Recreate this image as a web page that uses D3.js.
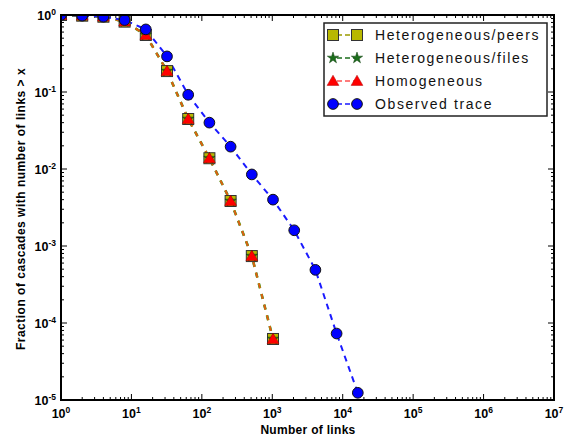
<!DOCTYPE html>
<html><head><meta charset="utf-8">
<script src="https://cdn.jsdelivr.net/npm/d3@7"></script>
<style>body{margin:0;background:#fff}svg{display:block}</style>
</head><body><svg id="c" width="571" height="436"></svg>
<script>
const linksX = [1,2,4,8,16,32,64,128,256,512,1024,2048,4096,8192,16384];
const observed = [1,0.98,0.95,0.86,0.65,0.29,0.092,0.040,0.0195,0.0085,0.0040,0.0016,0.00049,7.3e-5,1.24e-5];
const modelX = [1,2,4,8,16,32,64,128,256,512,1024];
const hetPeers = [1,0.98,0.95,0.82,0.55,0.187,0.0446,0.0138,0.00384,0.00074,6.2e-5];
const hetFiles = [1,0.98,0.95,0.82,0.55,0.187,0.0446,0.0138,0.00384,0.00074,6.2e-5];
const homog = [1,0.98,0.95,0.82,0.55,0.187,0.0446,0.0138,0.00384,0.00074,6.2e-5];
const xTickExp = [0,1,2,3,4,5,6,7];
const yTickExp = [0,-1,-2,-3,-4,-5];
const legendLabels = ["Heterogeneous/peers","Heterogeneous/files","Homogeneous","Observed trace"];

const W=571,H=436, m={l:61,t:15,r:17,b:36};
const pw=W-m.l-m.r, ph=H-m.t-m.b;
const svg=d3.select("#c");
const x=d3.scaleLog().domain([1,1e7]).range([m.l,m.l+pw]);
const y=d3.scaleLog().domain([1e-5,1]).range([m.t+ph,m.t]);

svg.append("defs").append("clipPath").attr("id","clip").append("rect")
  .attr("x",m.l).attr("y",m.t).attr("width",pw).attr("height",ph);

// ticks (inward, all four sides)
const g=svg.append("g").attr("stroke","#000").attr("stroke-width",1);
const xMinor=[],yMinor=[];
for(let e=0;e<7;e++)for(let k=2;k<10;k++)xMinor.push(k*Math.pow(10,e));
for(let e=-5;e<0;e++)for(let k=2;k<10;k++)yMinor.push(k*Math.pow(10,e));
xMinor.forEach(v=>{const px=x(v);
  g.append("line").attr("x1",px).attr("x2",px).attr("y1",m.t+ph).attr("y2",m.t+ph-3);
  g.append("line").attr("x1",px).attr("x2",px).attr("y1",m.t).attr("y2",m.t+3);});
xTickExp.forEach(e=>{const px=x(Math.pow(10,e));
  g.append("line").attr("x1",px).attr("x2",px).attr("y1",m.t+ph).attr("y2",m.t+ph-6);
  g.append("line").attr("x1",px).attr("x2",px).attr("y1",m.t).attr("y2",m.t+6);});
yMinor.forEach(v=>{const py=y(v);
  g.append("line").attr("x1",m.l).attr("x2",m.l+3).attr("y1",py).attr("y2",py);
  g.append("line").attr("x1",m.l+pw).attr("x2",m.l+pw-3).attr("y1",py).attr("y2",py);});
yTickExp.forEach(e=>{const py=y(Math.pow(10,e));
  g.append("line").attr("x1",m.l).attr("x2",m.l+6).attr("y1",py).attr("y2",py);
  g.append("line").attr("x1",m.l+pw).attr("x2",m.l+pw-6).attr("y1",py).attr("y2",py);});

// tick labels
const font="Liberation Sans, Arial, Helvetica, sans-serif";
xTickExp.forEach(e=>{
  const t=svg.append("text").attr("x",x(Math.pow(10,e))).attr("y",418)
    .attr("text-anchor","middle").attr("font-family",font).attr("font-weight","bold").attr("font-size",12.5);
  t.append("tspan").text("10");
  t.append("tspan").attr("font-size",8.5).attr("dy",-5).text(e);
});
yTickExp.forEach(e=>{
  const t=svg.append("text").attr("x",56).attr("y",y(Math.pow(10,e))+4.5)
    .attr("text-anchor","end").attr("font-family",font).attr("font-weight","bold").attr("font-size",12.5);
  t.append("tspan").text("10");
  t.append("tspan").attr("font-size",8.5).attr("dy",-5).text(e);
});

// axis titles
svg.append("text").attr("x",308).attr("y",434).attr("text-anchor","middle")
  .attr("font-family",font).attr("font-weight","bold").attr("font-size",12).attr("letter-spacing",0.3)
  .text("Number of links");
svg.append("text").attr("transform","translate(25,209) rotate(-90)").attr("text-anchor","middle")
  .attr("font-family",font).attr("font-weight","bold").attr("font-size",12).attr("letter-spacing",0.5)
  .text("Fraction of cascades with number of links > x");

// series
const plot=svg.append("g").attr("clip-path","url(#clip)");
const line=(xs)=>d3.line().x((d,i)=>x(xs[i])).y(d=>y(d));
const star=d3.symbol().type(d3.symbolStar).size(40);
const tri=d3.symbol().type(d3.symbolTriangle).size(60);
const circ=d3.symbol().type(d3.symbolCircle).size(90);

plot.append("path").datum(hetFiles).attr("d",line(modelX)).attr("fill","none")
  .attr("stroke","#2a7a2a").attr("stroke-width",2.6).attr("stroke-dasharray","5,6");
plot.append("path").datum(hetPeers).attr("d",line(modelX)).attr("fill","none")
  .attr("stroke","#a0a000").attr("stroke-width",2.2).attr("stroke-dasharray","5,6");
plot.append("path").datum(homog).attr("d",line(modelX)).attr("fill","none")
  .attr("stroke","#e8501a").attr("stroke-width",1.4).attr("stroke-dasharray","5,6");
plot.append("path").datum(observed).attr("d",line(linksX)).attr("fill","none")
  .attr("stroke","#1a1aff").attr("stroke-width",2).attr("stroke-dasharray","6,5");

plot.selectAll(".sq").data(hetPeers).join("rect")
  .attr("x",(d,i)=>x(modelX[i])-5.5).attr("y",d=>y(d)-5.5).attr("width",11).attr("height",11)
  .attr("fill","#b8b800").attr("stroke","#333").attr("stroke-width",1);
plot.selectAll(".st").data(hetFiles).join("path")
  .attr("transform",(d,i)=>`translate(${x(modelX[i])},${y(d)})`).attr("d",star())
  .attr("fill","#1b6e1b").attr("stroke","#0a3a0a").attr("stroke-width",0.5);
plot.selectAll(".tr").data(homog).join("path")
  .attr("transform",(d,i)=>`translate(${x(modelX[i])},${y(d)+1})`).attr("d",tri())
  .attr("fill","#ff0000").attr("stroke","#a00").attr("stroke-width",0.5);
plot.selectAll(".ci").data(observed).join("path")
  .attr("transform",(d,i)=>`translate(${x(linksX[i])},${y(d)})`).attr("d",circ())
  .attr("fill","#0000ff").attr("stroke","#111").attr("stroke-width",1);

// frame
svg.append("rect").attr("x",m.l).attr("y",m.t).attr("width",pw).attr("height",ph)
  .attr("fill","none").attr("stroke","#000").attr("stroke-width",2);

// legend
const lg=svg.append("g");
lg.append("rect").attr("x",324).attr("y",23).attr("width",223).attr("height",93)
  .attr("fill","#fff").attr("stroke","#222").attr("stroke-width",1.5);
const rows=[35,58,81,104];
const lcol=["#9a9a00","#1b6e1b","#ff5050","#1a1aff"];
rows.forEach((ry,i)=>{
  lg.append("line").attr("x1",333).attr("x2",357).attr("y1",ry).attr("y2",ry)
    .attr("stroke",lcol[i]).attr("stroke-width",1.5).attr("stroke-dasharray","5,3").attr("stroke-dashoffset",-4);
  [333,357].forEach(mx=>{
    if(i===0) lg.append("rect").attr("x",mx-5.5).attr("y",ry-5.5).attr("width",11).attr("height",11)
      .attr("fill","#b8b800").attr("stroke","#333").attr("stroke-width",1);
    if(i===1) lg.append("path").attr("transform",`translate(${mx},${ry})`).attr("d",star())
      .attr("fill","#1b6e1b").attr("stroke","#0a3a0a").attr("stroke-width",0.5);
    if(i===2) lg.append("path").attr("transform",`translate(${mx},${ry+1})`).attr("d",tri())
      .attr("fill","#ff0000").attr("stroke","#a00").attr("stroke-width",0.5);
    if(i===3) lg.append("path").attr("transform",`translate(${mx},${ry})`).attr("d",circ())
      .attr("fill","#0000ff").attr("stroke","#111").attr("stroke-width",1);
  });
  lg.append("text").attr("x",375).attr("y",ry+5).attr("font-family",font).attr("font-size",14)
    .attr("letter-spacing",1.6).attr("fill","#111").text(legendLabels[i]);
});
</script></body></html>
